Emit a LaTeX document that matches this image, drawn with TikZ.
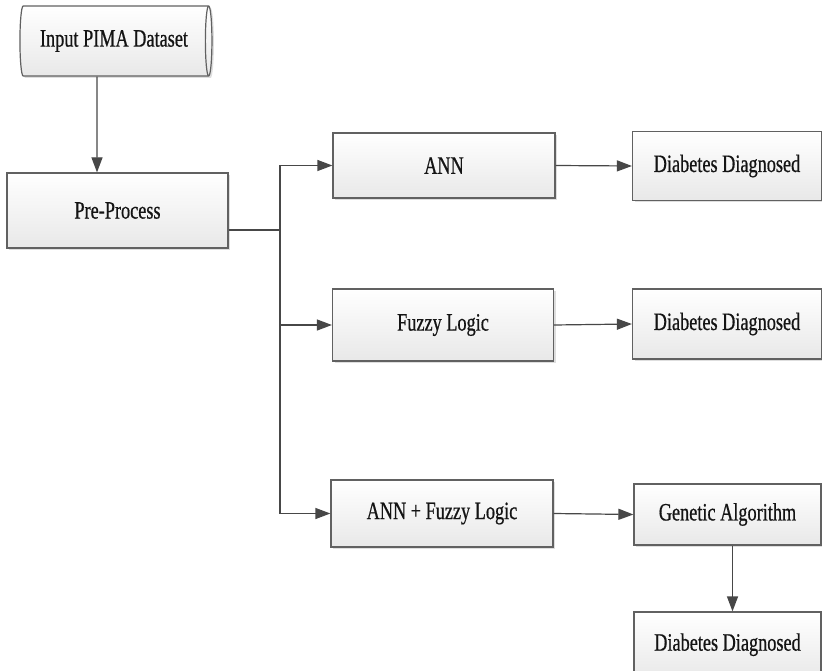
\documentclass[tikz,border=0pt]{standalone}
\usepackage{fontspec}
\setmainfont[FakeStretch=0.73,FakeBold=0.6]{Liberation Serif}
\usetikzlibrary{arrows.meta,shapes.geometric,shadows}
\begin{document}
\begin{tikzpicture}[x=1pt,y=-1pt,
  box/.style={draw=black!62, line width=1.2pt, top color=white, bottom color=black!9,
    inner sep=0pt, text=black!92, font=\fontsize{25}{28}\selectfont,
    drop shadow={shadow xshift=2pt, shadow yshift=-2pt, fill=black!25, opacity=0.5}},
  conn/.style={draw=black!72, line width=1.2pt},
  arr/.style={conn, -{Triangle[length=15pt,width=11pt]}}]
\useasboundingbox[fill=white] (0,0) rectangle (822,671);
\node[box, shape=cylinder, shape border rotate=0, aspect=0.3, minimum width=70pt, minimum height=192pt] (inp) at (114,41) {Input PIMA Dataset};
\node[box, rectangle, minimum width=221pt, minimum height=75pt] (pre) at (117.5,210.5) {Pre-Process};
\node[box, rectangle, minimum width=222pt, minimum height=65pt] (ann) at (444,165.5) {ANN};
\node[box, rectangle, minimum width=189pt, minimum height=69pt] (dd1) at (727,166) {Diabetes Diagnosed};
\node[box, rectangle, minimum width=221pt, minimum height=72pt] (fuz) at (443,325) {Fuzzy Logic};
\node[box, rectangle, minimum width=189pt, minimum height=70pt] (dd2) at (727,324) {Diabetes Diagnosed};
\node[box, rectangle, minimum width=222pt, minimum height=67pt] (af) at (442,513.5) {ANN + Fuzzy Logic};
\node[box, rectangle, minimum width=187pt, minimum height=61pt] (ga) at (727.5,514.5) {Genetic Algorithm};
\node[box, rectangle, minimum width=187pt, minimum height=68pt, text depth=8pt] (dd3) at (727.5,646) {Diabetes Diagnosed};
\coordinate (j) at (280,230);
\draw[arr] ([xshift=-17pt]inp.south) -- ([xshift=-20.5pt]pre.north);
\draw[conn] ([yshift=-19.5pt]pre.east) -- (j);
\draw[arr] (j) |- (ann.west);
\draw[arr] (j) |- (fuz.west);
\draw[arr] (j) |- (af.west);
\draw[arr] (ann.east) -- (dd1.west);
\draw[arr] (fuz.east) -- (dd2.west);
\draw[arr] (af.east) -- (ga.west);
\draw[arr] ([xshift=5pt]ga.south) -- ([xshift=5pt]dd3.north);
\end{tikzpicture}
\end{document}
